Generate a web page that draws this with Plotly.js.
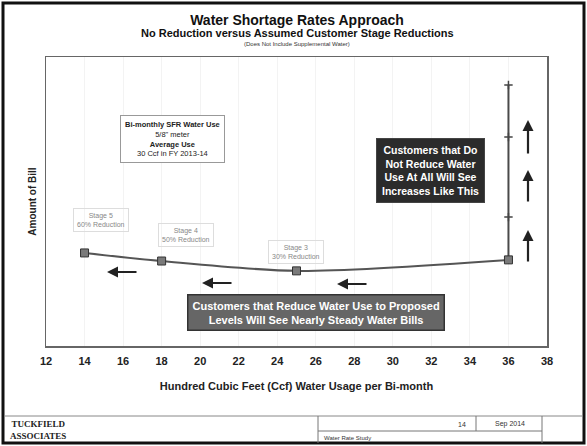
<!DOCTYPE html>
<html><head><meta charset="utf-8">
<script src="https://cdn.plot.ly/plotly-3.0.1.min.js"></script>
<style>html,body{margin:0;padding:0;background:#fff}#chart{width:587px;height:446px}</style>
</head><body><div id="chart"></div>
<script>
// Data
const reductionUse = [14, 18, 25, 36];
const reductionBill = [32.2, 29.4, 26.0, 29.8];
const noReductionUse = [36, 36, 36, 36];
const noReductionBill = [29.8, 44.6, 72.3, 90.3];
const xTicks = [12,14,16,18,20,22,24,26,28,30,32,34,36,38];
const stageLabels = ["Stage 5<br>60% Reduction", "Stage 4<br>50% Reduction", "Stage 3<br>30% Reduction"];

const F = "Liberation Sans, Arial, sans-serif";
const px2x = p => 12 + (p - 46) / (501 / 26);
const py2y = p => (346 - p) / 2.89;
const ppx = p => (p - 46) / 501;
const ppy = p => (346 - p) / 289;

const traces = [
  {x: noReductionUse, y: noReductionBill, mode: 'lines+markers', type: 'scatter',
   line: {color: '#4a4a4a', width: 2},
   marker: {symbol: 'cross-thin', size: 6, line: {color: '#444', width: 1.5}, color: '#444'},
   hoverinfo: 'skip', showlegend: false},
  {x: reductionUse, y: reductionBill, mode: 'lines+markers', type: 'scatter',
   line: {color: '#555', width: 2, shape: 'spline', smoothing: 0.8},
   marker: {symbol: 'square', size: 8, color: '#7a7a7a', line: {color: '#333', width: 1}},
   hoverinfo: 'skip', showlegend: false}
];

function arrow(x0, y0, x1, y1) {
  return {x: x1, y: y1, ax: x0, ay: y0, xref: 'x', yref: 'y', axref: 'x', ayref: 'y',
    showarrow: true, arrowhead: 2, arrowsize: 1, arrowwidth: 2.2, arrowcolor: '#222', text: ''};
}
function txt(o) { return Object.assign({showarrow: false, xanchor: 'center', yanchor: 'middle'}, o); }

const annotations = [
  txt({xref: 'paper', yref: 'paper', x: ppx(297), y: ppy(33), text: '<b>No Reduction versus Assumed Customer Stage Reductions</b>',
   font: {family: F, size: 11, color: '#111'}}),
  txt({xref: 'paper', yref: 'paper', x: ppx(297), y: ppy(44), text: '(Does Not Include Supplemental Water)',
   font: {family: F, size: 6, color: '#333'}}),
  txt({xref: 'x', yref: 'y', x: px2x(172), y: py2y(139),
   text: '<b>Bi-monthly SFR Water Use</b><br>5/8" meter<br><b>Average Use</b><br>30 Ccf in FY 2013-14',
   font: {family: F, size: 7.5, color: '#222'}, bgcolor: '#fff', bordercolor: '#999', borderwidth: 1, borderpad: 4}),
  txt({xref: 'x', yref: 'y', x: px2x(101), y: py2y(220), text: stageLabels[0],
   font: {family: F, size: 7, color: '#888'}, bordercolor: '#ddd', borderwidth: 1, borderpad: 3}),
  txt({xref: 'x', yref: 'y', x: px2x(186), y: py2y(235), text: stageLabels[1],
   font: {family: F, size: 7, color: '#888'}, bordercolor: '#ddd', borderwidth: 1, borderpad: 3}),
  txt({xref: 'x', yref: 'y', x: px2x(296), y: py2y(252), text: stageLabels[2],
   font: {family: F, size: 7, color: '#888'}, bordercolor: '#ddd', borderwidth: 1, borderpad: 3}),
  txt({xref: 'x', yref: 'y', x: px2x(430), y: py2y(170),
   text: '<b>Customers that Do<br>Not Reduce Water<br>Use At All Will See<br>Increases Like This</b>',
   font: {family: F, size: 10.5, color: '#fff'}, bgcolor: '#2b2b2b', bordercolor: '#444', borderwidth: 1, borderpad: 5}),
  txt({xref: 'x', yref: 'y', x: px2x(316), y: py2y(312),
   text: '<b>Customers that Reduce Water Use to Proposed<br>Levels Will See Nearly Steady Water Bills</b>',
   font: {family: F, size: 11, color: '#fff'}, bgcolor: '#666', bordercolor: '#333', borderwidth: 1.5, borderpad: 4}),
  arrow(px2x(138), py2y(272), px2x(107), py2y(272)),
  arrow(px2x(233), py2y(283), px2x(202), py2y(283)),
  arrow(px2x(368), py2y(284), px2x(337), py2y(284)),
  arrow(px2x(528), py2y(263), px2x(528), py2y(230)),
  arrow(px2x(528), py2y(203), px2x(528), py2y(170)),
  arrow(px2x(528), py2y(155), px2x(528), py2y(120)),
  // footer
  txt({xref: 'paper', yref: 'paper', x: ppx(38), y: ppy(430), text: '<b>TUCKFIELD<br>ASSOCIATES</b>',
   font: {family: 'Liberation Serif, serif', size: 9, color: '#222'}}),
  txt({xref: 'paper', yref: 'paper', x: ppx(462), y: ppy(424), text: '14',
   font: {family: F, size: 7, color: '#333'}}),
  txt({xref: 'paper', yref: 'paper', x: ppx(510), y: ppy(424), text: 'Sep 2014',
   font: {family: F, size: 7, color: '#333'}}),
  txt({xref: 'paper', yref: 'paper', x: ppx(322), y: ppy(438), xanchor: 'left', text: 'Water Rate Study',
   font: {family: F, size: 6, color: '#333'}})
];

const shapes = [
  {type: 'rect', xref: 'paper', yref: 'paper', x0: ppx(3), x1: ppx(584), y0: ppy(443), y1: ppy(3), line: {color: '#111', width: 3}},
  {type: 'line', xref: 'paper', yref: 'paper', x0: ppx(5), x1: ppx(582), y0: ppy(416), y1: ppy(416), line: {color: '#888', width: 1}},
  {type: 'line', xref: 'paper', yref: 'paper', x0: ppx(318), x1: ppx(318), y0: ppy(416), y1: ppy(443), line: {color: '#777', width: 1}},
  {type: 'line', xref: 'paper', yref: 'paper', x0: ppx(476), x1: ppx(476), y0: ppy(416), y1: ppy(431), line: {color: '#777', width: 1}},
  {type: 'line', xref: 'paper', yref: 'paper', x0: ppx(542), x1: ppx(542), y0: ppy(416), y1: ppy(443), line: {color: '#777', width: 1}},
  {type: 'line', xref: 'paper', yref: 'paper', x0: ppx(318), x1: ppx(542), y0: ppy(431), y1: ppy(431), line: {color: '#777', width: 1}}
];

const layout = {
  width: 587, height: 446,
  margin: {l: 46, r: 40, t: 57, b: 100},
  paper_bgcolor: '#fff', plot_bgcolor: '#fff',
  title: {text: '<b>Water Shortage Rates Approach</b>', x: 297 / 587, xanchor: 'center',
          y: 1 - 20 / 446, yanchor: 'middle', yref: 'container', xref: 'container',
          font: {family: F, size: 14, color: '#111'}},
  xaxis: {range: [12, 38], tickvals: xTicks, ticktext: xTicks.map(String), showgrid: true, gridcolor: '#f3f3f3',
          zeroline: false, showline: true, mirror: true, linecolor: '#666', linewidth: 1.5, ticks: '',
          ticklabelstandoff: 4, tickfont: {family: F, size: 11, color: '#222', weight: 'bold'},
          title: {text: '<b>Hundred Cubic Feet (Ccf) Water Usage per Bi-month</b>', standoff: 16,
                  font: {family: F, size: 11, color: '#222'}}},
  yaxis: {range: [0, 100], showticklabels: false, showgrid: false, zeroline: false, showline: true, mirror: true,
          linecolor: '#666', linewidth: 1.5, ticks: '',
          title: {text: '<b>Amount of Bill</b>', standoff: 6, font: {family: F, size: 10, color: '#222'}}},
  annotations: annotations,
  shapes: shapes,
  showlegend: false
};

Plotly.newPlot('chart', traces, layout, {displayModeBar: false, staticPlot: true});
</script></body></html>
